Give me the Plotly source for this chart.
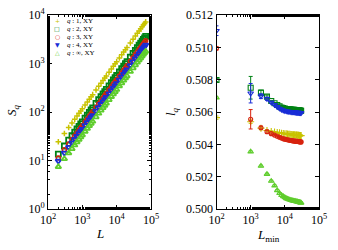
import plotly.graph_objects as go

# ---------------- data: left panel (S_q vs L) ----------------
L = [200, 300, 400, 500, 600, 700, 800, 900, 1000, 1200, 1400, 1600, 1800, 2000,
     2500, 3000, 3500, 4000, 4500, 5000, 6000, 7000, 8000, 9000, 10000, 12000,
     14000, 16000, 18000, 20000, 25000, 30000, 35000, 40000, 45000, 50000,
     55000, 60000, 65000, 70000]
S_q1 = [24.4, 36.1, 47.8, 59.4, 70.9, 82.3, 93.7, 105.0, 116.4, 138.9, 161.3, 183.6,
        205.9, 228.0, 283.2, 338.1, 392.6, 447.1, 501.2, 555.3, 662.9, 769.7, 876.0,
        982.4, 1088, 1299, 1509, 1718, 1926, 2133, 2650, 3162, 3674, 4182, 4688,
        5194, 5697, 6199, 6701, 7200]
S_q2 = [13.5, 19.9, 26.2, 32.4, 38.5, 44.6, 50.7, 56.7, 62.7, 74.7, 86.5, 98.3,
        110.0, 121.6, 150.5, 179.1, 207.6, 235.8, 263.9, 291.8, 347.3, 402.3, 457.1,
        511.4, 565.5, 673.2, 780.2, 886.3, 991.8, 1096, 1357, 1616, 1872, 2126, 2379,
        2631, 2881, 3131, 3380, 3627]
S_q3 = [11.3, 16.6, 21.8, 27.0, 32.1, 37.1, 42.2, 47.2, 52.1, 62.0, 71.8, 81.5,
        91.1, 100.7, 124.5, 148.1, 171.4, 194.5, 217.6, 240.5, 286.1, 331.1, 375.8,
        420.3, 464.8, 552.5, 639.2, 726.0, 812.1, 897.5, 1110, 1319, 1527, 1734, 1939,
        2144, 2347, 2549, 2750, 2951]
S_q4 = [9.8, 14.3, 18.8, 23.2, 27.5, 31.8, 36.1, 40.3, 44.5, 52.8, 61.0, 69.2,
        77.3, 85.3, 105.2, 124.9, 144.4, 163.7, 182.9, 201.9, 239.7, 277.0, 314.1,
        350.8, 387.4, 459.7, 531.5, 602.4, 673.0, 743.0, 916.6, 1088, 1258, 1426, 1593,
        1759, 1923, 2087, 2250, 2412]
S_qinf = [7.4, 10.8, 14.2, 17.4, 20.7, 23.9, 27.1, 30.2, 33.4, 39.6, 45.7, 51.8,
          57.8, 63.8, 78.6, 93.3, 107.8, 122.1, 136.3, 150.5, 178.5, 206.2, 233.7,
          260.9, 288.0, 341.5, 394.5, 447.0, 499.2, 550.8, 678.8, 805.2, 930.1, 1054,
          1177, 1299, 1420, 1541, 1660, 1780]

# ---------------- data: right panel (l_q vs L_min) ----------------
Lmin = [100, 1000, 2000, 3000, 4000, 5000, 6000, 7000, 8000, 9000, 10000, 11000,
        12000, 13000, 14000, 15000, 16000, 17000, 18000, 19000, 20000, 21000, 22000,
        23000, 24000, 25000, 26000, 27000, 28000, 29000, 30000]
l_q1 = [0.50565, 0.50540, 0.50500, 0.50486, 0.50480, 0.50476, 0.50473, 0.50471,
        0.50469, 0.50467, 0.50466, 0.50465, 0.50464, 0.50463, 0.50462, 0.50461,
        0.50461, 0.50460, 0.50459, 0.50459, 0.50458, 0.50458, 0.50457, 0.50457,
        0.50456, 0.50456, 0.50456, 0.50455, 0.50455, 0.50455, 0.50454]
e_q1 = [0.0001, 0.0001, 0.0001] + [0.00003] * 28
l_q2 = [0.50798, 0.50750, 0.50720, 0.50695, 0.50668, 0.50654, 0.50643, 0.50635,
        0.50628, 0.50624, 0.50621, 0.50619, 0.50618, 0.50617, 0.50616, 0.50615,
        0.50614, 0.50614, 0.50613, 0.50613, 0.50612, 0.50612, 0.50611, 0.50611,
        0.50610, 0.50610, 0.50610, 0.50609, 0.50609, 0.50608, 0.50608]
e_q2 = [0.0001, 0.0007, 0.00015, 0.0001] + [0.00004] * 27
l_q3 = [0.50994, 0.50555, 0.50503, 0.50478, 0.50466, 0.50457, 0.50450, 0.50444,
        0.50439, 0.50435, 0.50432, 0.50430, 0.50428, 0.50427, 0.50425, 0.50424,
        0.50423, 0.50422, 0.50421, 0.50421, 0.50420, 0.50419, 0.50419, 0.50418,
        0.50418, 0.50417, 0.50417, 0.50416, 0.50416, 0.50415, 0.50415]
e_q3 = [0.0001, 0.0006, 0.0001, 0.0001] + [0.00004] * 27
l_q4 = [0.51103, 0.50716, 0.50698, 0.50682, 0.50660, 0.50645, 0.50632, 0.50622,
        0.50615, 0.50610, 0.50607, 0.50605, 0.50604, 0.50603, 0.50602, 0.50601,
        0.50600, 0.50600, 0.50599, 0.50599, 0.50598, 0.50598, 0.50597, 0.50597,
        0.50596, 0.50596, 0.50596, 0.50595, 0.50595, 0.50594, 0.50594]
e_q4 = [0.0003, 0.0006, 0.00015, 0.0001] + [0.00004] * 27
l_qinf = [0.50688, 0.50354, 0.50266, 0.50216, 0.50173, 0.50144, 0.50115, 0.50097,
          0.50085, 0.50078, 0.50072, 0.50066, 0.50062, 0.50059, 0.50057, 0.50055,
          0.50053, 0.50052, 0.50050, 0.50049, 0.50048, 0.50047, 0.50046, 0.50045,
          0.50044, 0.50043, 0.50042, 0.50041, 0.50040, 0.50039, 0.50038]
e_qinf = [0.00005] * 31

names = ["<i>q</i> : 1, XY", "<i>q</i> : 2, XY", "<i>q</i> : 3, XY",
         "<i>q</i> : 4, XY", "<i>q</i> : ∞, XY"]
legend_glyphs = ["+", "□", "○", "▼", "△"]
colors = ["rgb(200,195,0)", "rgb(0,130,20)", "rgb(215,35,15)",
          "rgb(25,45,215)", "rgb(95,205,45)"]
symbols = ["cross-thin-open", "square-open", "circle-open",
           "triangle-down-open", "triangle-up-open"]
sizes_left = [4, 5, 4, 5, 5]
widths_left = [1.5, 1.8, 1.5, 1.8, 1.8]
sizes_right = [5, 5, 4, 5, 5]

FONT = "Liberation Serif"
W, H = 338, 250


def px(x):
    return x / W


def py(y):
    return 1 - y / H


fig = go.Figure()

left_series = [S_q1, S_q2, S_q3, S_q4, S_qinf]
for i, ys in enumerate(left_series):
    fig.add_trace(go.Scatter(
        x=L, y=ys, mode="markers", name=names[i],
        marker=dict(symbol=symbols[i], size=sizes_left[i], color=colors[i],
                    line=dict(width=widths_left[i], color=colors[i])),
        xaxis="x", yaxis="y", showlegend=False))

right_series = [(l_q1, e_q1), (l_q2, e_q2), (l_q3, e_q3), (l_q4, e_q4), (l_qinf, e_qinf)]
for i, (ys, es) in enumerate(right_series):
    fig.add_trace(go.Scatter(
        x=Lmin, y=ys, mode="markers", name=names[i],
        error_y=dict(type="data", array=es, color=colors[i], thickness=1, width=2),
        marker=dict(symbol=symbols[i], size=sizes_right[i], color=colors[i],
                    line=dict(width=1.1, color=colors[i])),
        xaxis="x2", yaxis="y2", showlegend=False))

xl_vals = [100, 1000, 10000, 100000]
xl_text = ["10<sup>2</sup>", "10<sup>3</sup>", "10<sup>4</sup>", "10<sup>5</sup>"]
yl_vals = [1, 10, 100, 1000, 10000]
yl_text = ["10<sup>0</sup>", "10<sup>1</sup>", "10<sup>2</sup>", "10<sup>3</sup>", "10<sup>4</sup>"]
yr_vals = [0.500, 0.502, 0.504, 0.506, 0.508, 0.510, 0.512]
yr_text = ["0.500", "0.502", "0.504", "0.506", "0.508", "0.510", "0.512"]

axis_common = dict(showline=True, linecolor="black", linewidth=1, mirror="ticks",
                   ticks="inside", ticklen=4, tickcolor="black", showgrid=False,
                   zeroline=False, automargin=False,
                   tickfont=dict(family=FONT, size=12, color="black"))
minor_log = dict(ticks="inside", ticklen=2, tickcolor="black", showgrid=False)

fig.update_layout(
    width=W, height=H, margin=dict(l=0, r=0, t=0, b=0, autoexpand=False),
    paper_bgcolor="white", plot_bgcolor="white",
    font=dict(family=FONT, color="black"),
    xaxis=dict(type="log", range=[2, 5], domain=[px(48), px(151)], anchor="y",
               tickvals=xl_vals, ticktext=xl_text, minor=minor_log, **axis_common),
    yaxis=dict(type="log", range=[0, 4], domain=[py(209), py(15)], anchor="x",
               tickvals=yl_vals, ticktext=yl_text, minor=minor_log, **axis_common),
    xaxis2=dict(type="log", range=[2, 5], domain=[px(216.5), px(319)], anchor="y2",
                tickvals=xl_vals, ticktext=xl_text, minor=minor_log, **axis_common),
    yaxis2=dict(range=[0.5, 0.512], domain=[py(209), py(15)], anchor="x2",
                tickvals=yr_vals, ticktext=yr_text, **axis_common),
    showlegend=False,
)

# legend (keys as glyphs + labels)
for i in range(5):
    ypix = 20.7 + 8 * i
    fig.add_annotation(text=legend_glyphs[i], x=px(57), y=py(ypix),
                       xref="paper", yref="paper", showarrow=False,
                       xanchor="center", yanchor="middle",
                       font=dict(family="DejaVu Sans", size=6, color=colors[i]))
    fig.add_annotation(text=names[i], x=px(65), y=py(ypix),
                       xref="paper", yref="paper", showarrow=False,
                       xanchor="left", yanchor="middle",
                       font=dict(family=FONT, size=7, color="black"))

title_kw = dict(xref="paper", yref="paper", showarrow=False,
                xanchor="center", yanchor="middle")
fig.add_annotation(text="<i>S</i><sub><i>q</i></sub>", x=px(13), y=py(110),
                   textangle=-90, font=dict(family=FONT, size=13), **title_kw)
fig.add_annotation(text="<i>L</i>", x=px(100), y=py(233),
                   font=dict(family=FONT, size=13), **title_kw)
fig.add_annotation(text="<i>l</i><sub><i>q</i></sub>", x=px(172), y=py(112),
                   textangle=-90, font=dict(family=FONT, size=13), **title_kw)
fig.add_annotation(text="<i>L</i><sub>min</sub>", x=px(268), y=py(235),
                   font=dict(family=FONT, size=13), **title_kw)

# remove the default 8px page margin so the figure fills the window exactly
fig.write_html("out.html", config={"displayModeBar": False},
               post_script="document.body.style.margin='0';")
